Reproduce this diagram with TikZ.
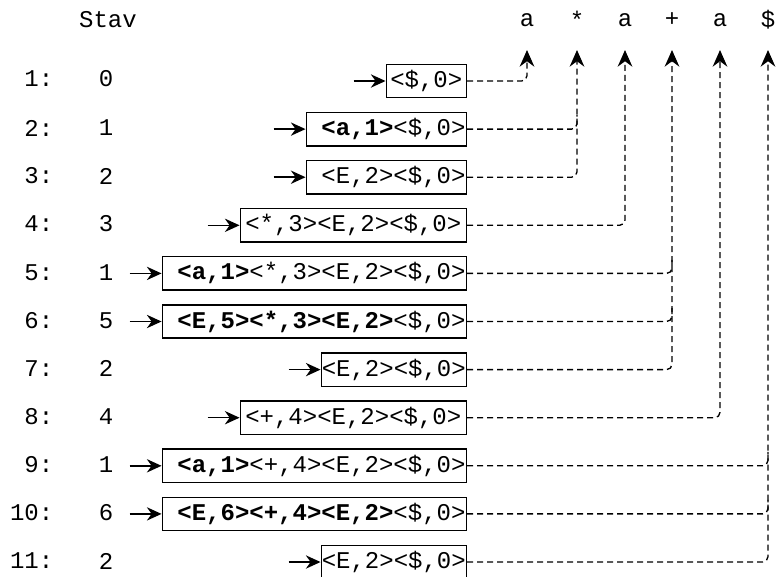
\documentclass[tikz,border=0pt]{standalone}
\usepackage{fontspec}
\setmonofont{Liberation Mono}
\usetikzlibrary{arrows.meta,calc}

\tikzset{
  mono/.style={font=\ttfamily\fontsize{18}{18}\selectfont},
  stack/.style={mono, draw, line width=1.1pt, anchor=east, inner xsep=0pt, inner ysep=0pt, minimum height=25pt},
  push/.style={line width=1.1pt, -{Stealth[length=11pt,width=10pt]}},
  goto/.style={line width=1pt, dash pattern=on 4.5pt off 3pt, rounded corners=4pt},
  gototip/.style={goto, -{Stealth[length=12.5pt,width=11pt]}}
}
\newcommand{\gap}{\hphantom{x}}

\begin{document}
\begin{tikzpicture}[x=0.75pt,y=-0.75pt]
    \useasboundingbox (0,0) rectangle (777,576);
    % header
    \node[mono] (stav) at (108,20) {Stav};
    \node[mono] (in1) at (527,20) {a};
    \node[mono] (in2) at (577,20) {*};
    \node[mono] (in3) at (625,20) {a};
    \node[mono] (in4) at (672,20) {+};
    \node[mono] (in5) at (720,20) {a};
    \node[mono] (in6) at (768,20) {\$};
    \coordinate (t1) at (527,50);
    \coordinate (t2) at (577,50);
    \coordinate (t3) at (625,50);
    \coordinate (t4) at (672,50);
    \coordinate (t5) at (720,50);
    \coordinate (t6) at (768,50);
    % row numbers and states
    \node[mono, anchor=east] (n1) at (58,79) {1:};     \node[mono] (q1) at (106,79) {0};
    \node[mono, anchor=east] (n2) at (58,128) {2:};    \node[mono] (q2) at (106,128) {1};
    \node[mono, anchor=east] (n3) at (58,176) {3:};    \node[mono] (q3) at (106,176) {2};
    \node[mono, anchor=east] (n4) at (58,224) {4:};    \node[mono] (q4) at (106,224) {3};
    \node[mono, anchor=east] (n5) at (58,272.5) {5:};  \node[mono] (q5) at (106,272.5) {1};
    \node[mono, anchor=east] (n6) at (58,320.5) {6:};  \node[mono] (q6) at (106,320.5) {5};
    \node[mono, anchor=east] (n7) at (58,368.5) {7:};  \node[mono] (q7) at (106,368.5) {2};
    \node[mono, anchor=east] (n8) at (58,417) {8:};    \node[mono] (q8) at (106,417) {4};
    \node[mono, anchor=east] (n9) at (58,465) {9:};    \node[mono] (q9) at (106,465) {1};
    \node[mono, anchor=east] (n10) at (58,513) {10:};  \node[mono] (q10) at (106,513) {6};
    \node[mono, anchor=east] (n11) at (58,561) {11:};  \node[mono] (q11) at (106,561) {2};
    % stacks
    \node[stack, minimum width=60pt] (s1) at (467,81) {<\$,0>};
    \node[stack, minimum width=120pt] (s2) at (467,129.1) {\gap\textbf{<a,1>}<\$,0>};
    \node[stack, minimum width=120pt] (s3) at (467,177.2) {\gap<E,2><\$,0>};
    \node[stack, minimum width=169.5pt] (s4) at (467,225.3) {<*,3><E,2><\$,0>};
    \node[stack, minimum width=228pt] (s5) at (467,273.4) {\gap\textbf{<a,1>}<*,3><E,2><\$,0>};
    \node[stack, minimum width=228pt] (s6) at (467,321.5) {\gap\textbf{<E,5><*,3><E,2>}<\$,0>};
    \node[stack, minimum width=108.75pt] (s7) at (467,369.6) {<E,2><\$,0>};
    \node[stack, minimum width=169.5pt] (s8) at (467,417.7) {<+,4><E,2><\$,0>};
    \node[stack, minimum width=228pt] (s9) at (467,465.8) {\gap\textbf{<a,1>}<+,4><E,2><\$,0>};
    \node[stack, minimum width=228pt] (s10) at (467,513.9) {\gap\textbf{<E,6><+,4><E,2>}<\$,0>};
    \node[stack, minimum width=108.75pt] (s11) at (467,562) {<E,2><\$,0>};
    % incoming arrows
    \foreach \s in {s1,s2,s3,s4,s5,s6,s7,s8,s9,s10,s11}
        \draw[push] ($(\s.west) + (-32,0)$) -- (\s.west);
    % links to the input
    \draw[gototip] (s1.east) -| (t1);
    \draw[goto] (s2.east) -| ($(s2.east -| t2) + (0,-14)$);
    \draw[gototip] (s3.east) -| (t2);
    \draw[gototip] (s4.east) -| (t3);
    \draw[goto] (s5.east) -| ($(s5.east -| t4) + (0,-14)$);
    \draw[goto] (s6.east) -| ($(s6.east -| t4) + (0,-14)$);
    \draw[gototip] (s7.east) -| (t4);
    \draw[gototip] (s8.east) -| (t5);
    \draw[goto] (s9.east) -| ($(s9.east -| t6) + (0,-14)$);
    \draw[goto] (s10.east) -| ($(s10.east -| t6) + (0,-14)$);
    \draw[gototip] (s11.east) -| (t6);
\end{tikzpicture}
\end{document}
